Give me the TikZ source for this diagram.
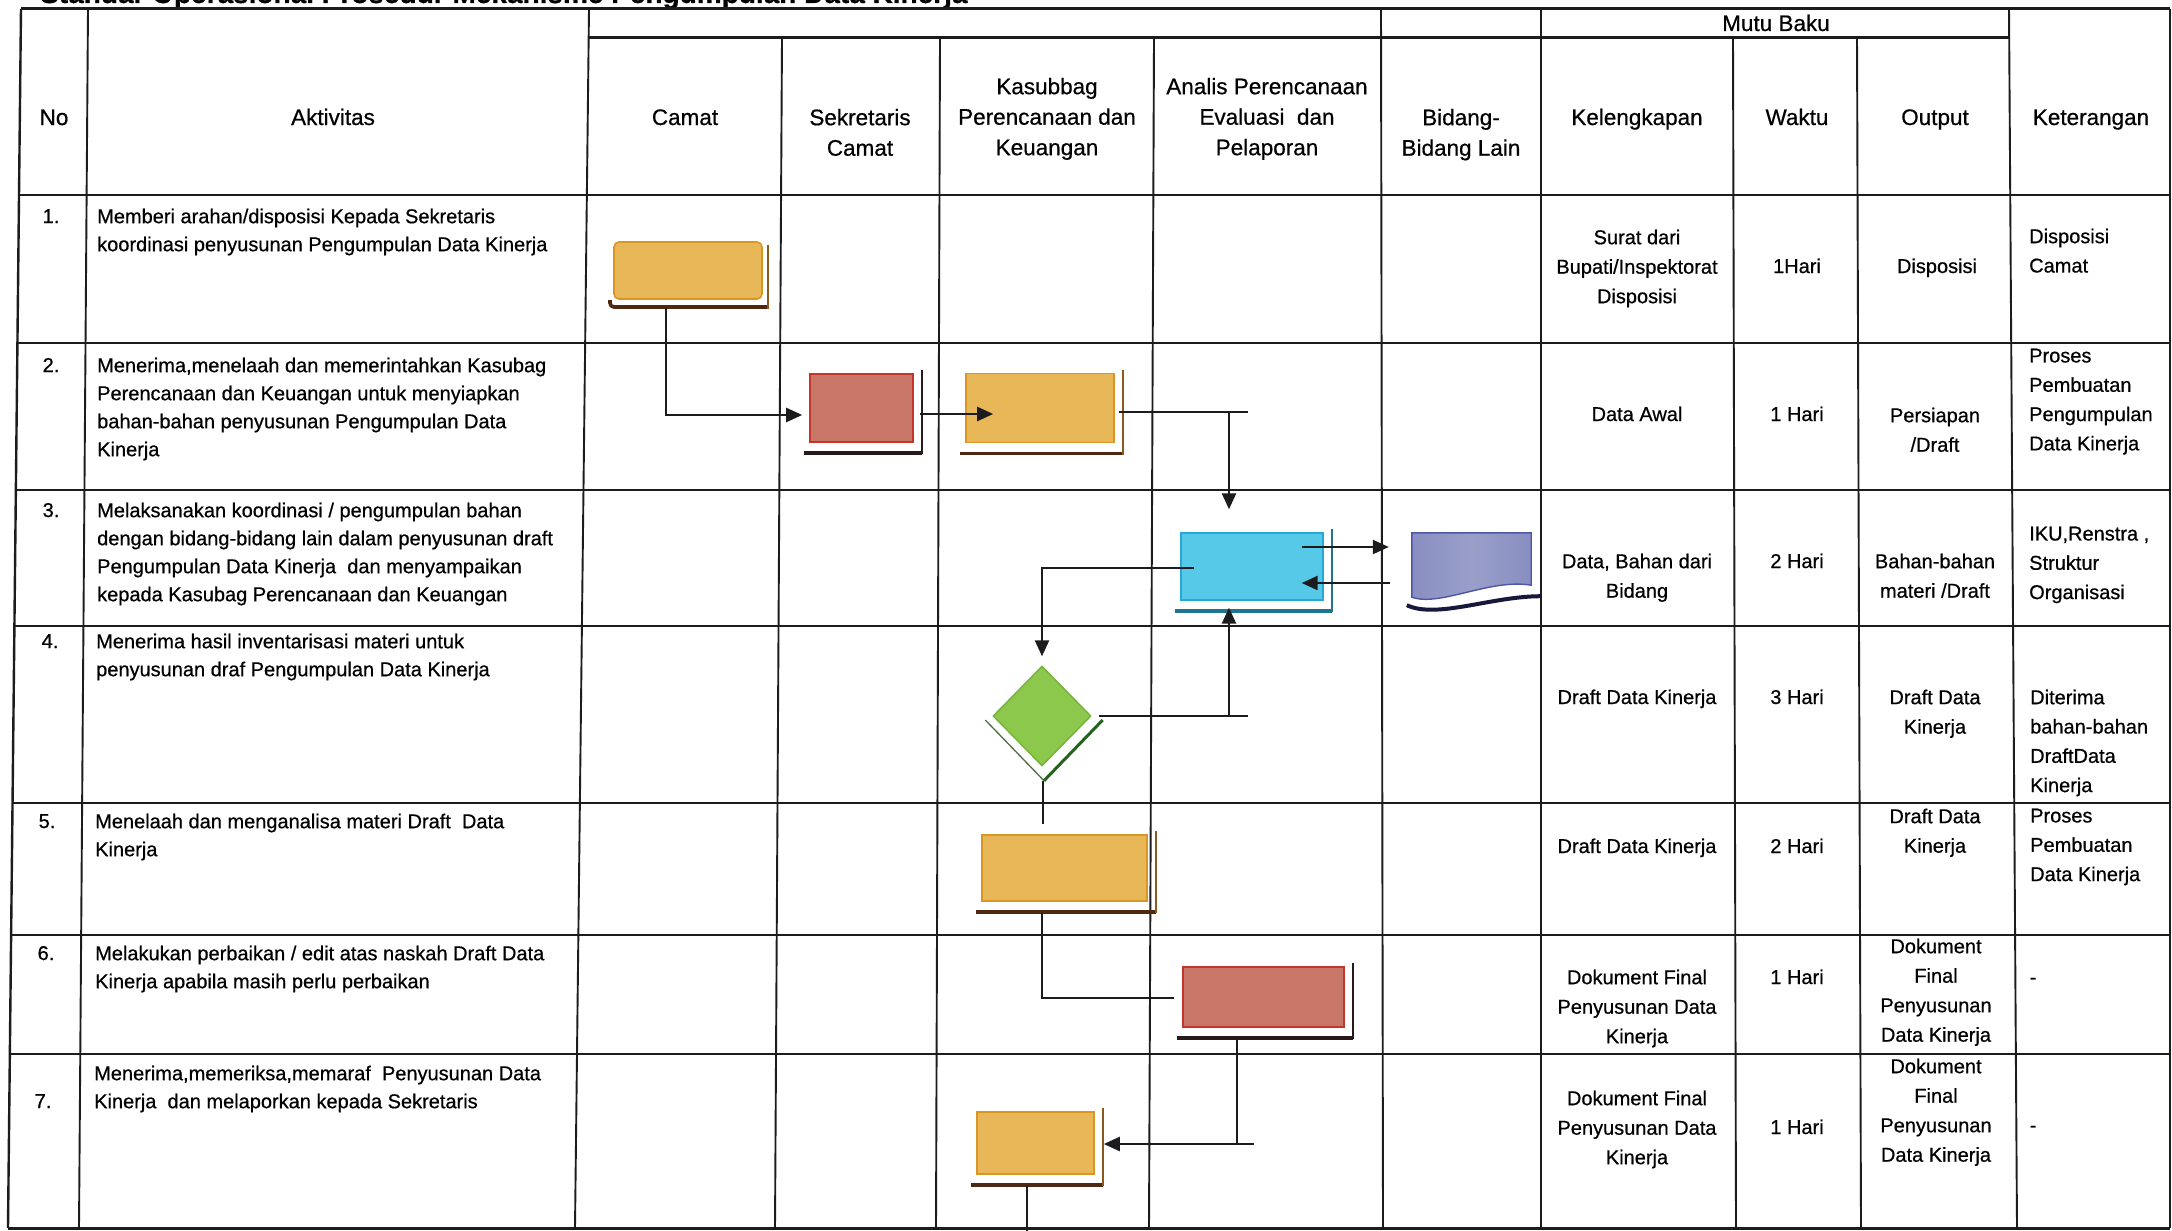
\documentclass[tikz,border=0pt]{standalone}
\usepackage{fontspec}
\setmainfont{Liberation Sans}[FakeBold=0.6]
\usetikzlibrary{arrows.meta,calc,shapes.geometric}
\definecolor{ink}{RGB}{28,28,30}
\definecolor{orfill}{RGB}{232,184,88}
\definecolor{ordraw}{RGB}{218,150,36}
\definecolor{orshadow}{RGB}{78,40,16}
\definecolor{orside}{RGB}{140,90,30}
\definecolor{rdfill}{RGB}{200,118,104}
\definecolor{rddraw}{RGB}{196,54,42}
\definecolor{rdshadow}{RGB}{40,26,26}
\definecolor{cyfill}{RGB}{86,200,232}
\definecolor{cydraw}{RGB}{38,168,214}
\definecolor{cyshadow}{RGB}{28,118,144}
\definecolor{dcfill}{RGB}{136,142,192}
\definecolor{dcdraw}{RGB}{78,86,168}
\definecolor{dcshadow}{RGB}{24,24,60}
\definecolor{grfill}{RGB}{140,200,76}
\definecolor{grdraw}{RGB}{116,178,58}
\definecolor{grshadow}{RGB}{38,100,30}
\newcommand{\shfr}[3]{%
  \draw[#2, line width=3.6pt] ($(#1.south west)+(-5,10)$) -- ($(#1.south east)+(8,10)$);
  \draw[#3, line width=1.8pt] ($(#1.north east)+(8,-3)$) -- ($(#1.south east)+(8,11.5)$);
}
\begin{document}
\begin{tikzpicture}[x=1pt,y=-1pt,
  hl/.style={draw=ink,line width=2.5pt},
  vl/.style={draw=ink,line width=1.9pt},
  conn/.style={draw=ink,line width=2.4pt},
  arr/.style={conn,-{Triangle[length=16pt,width=14pt]}},
  lt/.style={inner sep=0pt,font=\fontsize{20}{28}\selectfont,anchor=north west,align=left},
  nt/.style={inner sep=0pt,font=\fontsize{20}{28}\selectfont,anchor=base},
  ct/.style={inner sep=0pt,font=\fontsize{20}{29.5}\selectfont,anchor=north,align=center},
  bt/.style={inner sep=0pt,font=\fontsize{20}{29.5}\selectfont,anchor=base},
  kt/.style={inner sep=0pt,font=\fontsize{20}{29.3}\selectfont,anchor=north west,align=left},
  hd/.style={inner sep=0pt,font=\fontsize{22.5}{30.5}\selectfont,anchor=base},
  hdm/.style={inner sep=0pt,font=\fontsize{22.5}{30.5}\selectfont,anchor=north,align=center},
  orbox/.style={draw=ordraw,fill=orfill,line width=1.6pt,inner sep=0pt},
  rdbox/.style={draw=rddraw,fill=rdfill,line width=1.6pt,inner sep=0pt},
  cybox/.style={draw=cydraw,fill=cyfill,line width=1.4pt,inner sep=0pt},
  grdia/.style={diamond,draw=grdraw,fill=grfill,line width=1.4pt,inner sep=0pt,minimum width=98pt,minimum height=100pt}
]
\useasboundingbox (0,0) rectangle (2172,1231);
\fill[white] (0,0) rectangle (2172,1231);

% title (cut off at the top edge, as in the reference)
\node[inner sep=0pt,anchor=base west,font=\bfseries\fontsize{28}{30}\selectfont] (title) at (40,3) {Standar Operasional Prosedur Mekanisme Pengumpulan Data Kinerja};

% ---- table grid ----
\draw[hl,line width=3pt] (21,9) -- (2170,9);
\draw[hl,line width=3pt] (589,38) -- (2010,38);
\draw[hl,line width=2.8pt] (19,195) -- (2170,195);
\draw[hl] (17.4,343) -- (2170,343);
\draw[hl] (15.9,490) -- (2170,490);
\draw[hl] (14.4,626) -- (2170,626);
\draw[hl] (12.5,803) -- (2170,803);
\draw[hl] (11.1,935) -- (2170,935);
\draw[hl] (9.9,1054) -- (2170,1054);
\draw[hl,line width=3pt] (8,1228) -- (2170,1228);

\draw[vl,line width=2.4pt] (21,9) -- (8,1228);
\draw[vl] (88,9) -- (79,1228);
\draw[vl] (589,9) -- (575,1228);
\draw[vl] (782,38) -- (775,1228);
\draw[vl] (940,38) -- (936,1228);
\draw[vl] (1154,38) -- (1149,1228);
\draw[vl] (1381,9) -- (1383,1228);
\draw[vl] (1541,9) -- (1541,1228);
\draw[vl] (1733,38) -- (1736,1228);
\draw[vl] (1857,38) -- (1861,1228);
\draw[vl] (2009,9) -- (2017,1228);
\draw[vl,line width=2.4pt] (2170,9) -- (2170,1228);

% ---- header ----
\node[hd] (hMutu) at (1776,31) {Mutu Baku};
\node[hd] (hNo) at (54,125) {No};
\node[hd] (hAkt) at (333,125) {Aktivitas};
\node[hd] (hCamat) at (685,125) {Camat};
\node[hdm] (hSek) at (860,108.7) {Sekretaris\\Camat};
\node[hdm] (hKas) at (1047,77.7) {Kasubbag\\Perencanaan dan\\Keuangan};
\node[hdm] (hAna) at (1267,77.7) {Analis Perencanaan\\Evaluasi\ \ dan\\Pelaporan};
\node[hdm] (hBid) at (1461,108.7) {Bidang-\\Bidang Lain};
\node[hd] (hKel) at (1637,125) {Kelengkapan};
\node[hd] (hWak) at (1797,125) {Waktu};
\node[hd] (hOut) at (1935,125) {Output};
\node[hd] (hKet) at (2091,125) {Keterangan};

% ---- numbers ----
\node[nt] (n1) at (51,223) {1.};
\node[nt] (n2) at (51,372) {2.};
\node[nt] (n3) at (51,517) {3.};
\node[nt] (n4) at (50,648) {4.};
\node[nt] (n5) at (47,828) {5.};
\node[nt] (n6) at (46,960) {6.};
\node[nt] (n7) at (43,1108) {7.};

% ---- activities ----
\node[lt] (a1) at (97,208.5) {Memberi arahan/disposisi Kepada Sekretaris\\koordinasi penyusunan Pengumpulan Data Kinerja};
\node[lt] (a2) at (97,357.5) {Menerima,menelaah dan memerintahkan Kasubag\\Perencanaan dan Keuangan untuk menyiapkan\\bahan-bahan penyusunan Pengumpulan Data\\Kinerja};
\node[lt] (a3) at (97,502.5) {Melaksanakan koordinasi / pengumpulan bahan\\dengan bidang-bidang lain dalam penyusunan draft\\Pengumpulan Data Kinerja\ \ dan menyampaikan\\kepada Kasubag Perencanaan dan Keuangan};
\node[lt] (a4) at (96,633.5) {Menerima hasil inventarisasi materi untuk\\penyusunan draf Pengumpulan Data Kinerja};
\node[lt] (a5) at (95,813.5) {Menelaah dan menganalisa materi Draft\ \ Data\\Kinerja};
\node[lt] (a6) at (95,945.5) {Melakukan perbaikan / edit atas naskah Draft Data\\Kinerja apabila masih perlu perbaikan};
\node[lt] (a7) at (94,1065.5) {Menerima,memeriksa,memaraf\ \ Penyusunan Data\\Kinerja\ \ dan melaporkan kepada Sekretaris};

% ---- Mutu Baku columns ----
\node[ct] (k1) at (1637,229.5) {Surat dari\\Bupati/Inspektorat\\Disposisi};
\node[bt] (w1) at (1797,273) {1Hari};
\node[bt] (o1) at (1937,273) {Disposisi};
\node[kt] (r1) at (2029,228.5) {Disposisi\\Camat};

\node[bt] (k2) at (1637,421) {Data Awal};
\node[bt] (w2) at (1797,421) {1 Hari};
\node[ct] (o2) at (1935,407.5) {Persiapan\\/Draft};
\node[kt] (r2) at (2029,348.5) {Proses\\Pembuatan\\Pengumpulan\\Data Kinerja};

\node[ct] (k3) at (1637,553.5) {Data, Bahan dari\\Bidang};
\node[bt] (w3) at (1797,568) {2 Hari};
\node[ct] (o3) at (1935,553.5) {Bahan-bahan\\materi /Draft};
\node[kt] (r3) at (2029,526.5) {IKU,Renstra ,\\Struktur\\Organisasi};

\node[bt] (k4) at (1637,704) {Draft Data Kinerja};
\node[bt] (w4) at (1797,704) {3 Hari};
\node[ct] (o4) at (1935,689.5) {Draft Data\\Kinerja};
\node[kt] (r4) at (2030,689.5) {Diterima\\bahan-bahan\\DraftData\\Kinerja};

\node[bt] (k5) at (1637,853) {Draft Data Kinerja};
\node[bt] (w5) at (1797,853) {2 Hari};
\node[ct] (o5) at (1935,808.5) {Draft Data\\Kinerja};
\node[kt] (r5) at (2030,808.5) {Proses\\Pembuatan\\Data Kinerja};

\node[ct] (k6) at (1637,969.5) {Dokument Final\\Penyusunan Data\\Kinerja};
\node[bt] (w6) at (1797,984) {1 Hari};
\node[ct] (o6) at (1936,938.5) {Dokument\\Final\\Penyusunan\\Data Kinerja};
\node[bt] (r6) at (2033,984) {-};

\node[ct] (k7) at (1637,1090.5) {Dokument Final\\Penyusunan Data\\Kinerja};
\node[bt] (w7) at (1797,1134) {1 Hari};
\node[ct] (o7) at (1936,1058.5) {Dokument\\Final\\Penyusunan\\Data Kinerja};
\node[bt] (r7) at (2033,1132) {-};

% ---- flow shapes ----
% row 1 Camat
\draw[orshadow,line width=3.6pt,rounded corners=4pt] (610,300) -- (610,307) -- (768,307);
\draw[orside,line width=1.8pt] (768,245) -- (768,308.5);
\node[orbox,rounded corners=5pt,minimum width=148pt,minimum height=57pt] (camat) at (688,270.5) {};
% row 2
\node[rdbox,minimum width=103pt,minimum height=68pt] (sek) at (861.5,408) {};
\shfr{sek}{rdshadow}{rdshadow}
\node[orbox,minimum width=148pt,minimum height=69pt] (kas2) at (1040,408) {};
\shfr{kas2}{orshadow}{orside}
% row 3
\node[cybox,minimum width=142pt,minimum height=67pt] (cyan) at (1252,566.5) {};
\shfr{cyan}{cyshadow}{cyshadow}
\node[inner sep=0pt,minimum width=119pt,minimum height=64pt] (doc) at (1471.5,565) {};
\draw[dcshadow,line width=4pt] ($(doc.south west)+(-5,8)$) .. controls +(30,14) and +(-50,0) .. ($(doc.south east)+(10,-1)$);
\path[left color=dcfill,right color=dcfill,middle color=dcfill!85!white,draw=dcdraw,line width=1.4pt]
  (doc.north west) -- (doc.north east) -- ($(doc.south east)+(0,-12)$)
  .. controls +(-41,-7) and +(28,10) .. (doc.south west) -- cycle;
% row 4 diamond
\node[grdia] (dia) at (1042,716) {};
\draw[grshadow!60!gray,line width=1.3pt] ($(dia.west)+(-7,4)$) -- ($(dia.south)+(2,14)$);
\draw[grshadow,line width=3pt] ($(dia.south)+(2,14)$) -- ($(dia.east)+(11,4)$);
% row 5
\node[orbox,minimum width=165pt,minimum height=66pt] (kas5) at (1064.5,868) {};
\shfr{kas5}{orshadow}{orside}
% row 6
\node[rdbox,minimum width=161pt,minimum height=60pt] (red6) at (1263.5,997) {};
\shfr{red6}{rdshadow}{rdshadow}
% row 7
\node[orbox,minimum width=117pt,minimum height=62pt] (kas7) at (1035.5,1143) {};
\shfr{kas7}{orshadow}{orside}

% ---- connectors ----
\coordinate (j1) at (1229,412);
\coordinate (s1) at (1248,412);
\coordinate (j2) at (1229,716);
\coordinate (s2) at (1248,716);
\coordinate (j3) at (1237,1144);
\coordinate (s3) at (1254,1144);
\coordinate (e7) at (1027,1231);

\draw[arr] ($(camat.south)+(-22,8)$) |- ($(sek.west)+(-7,7)$);
\draw[arr] ($(sek.east)+(6,6)$) -- ($(kas2.west)+(28,6)$);
\draw[conn] ($(kas2.east)+(4,4)$) -- (s1);
\draw[arr] (j1) -- ($(cyan.north)+(-23,-23)$);
\draw[arr] ($(cyan.east)+(-22,-19.5)$) -- ($(doc.west)+(-23,-18)$);
\draw[arr] ($(doc.west)+(-22,18)$) -- ($(cyan.east)+(-22,16.5)$);
\draw[arr] ($(cyan.west)+(14,1.5)$) -| ($(dia.north)+(0,-9)$);
\draw[conn] ($(dia.east)+(7,0)$) -- (s2);
\draw[arr] (j2) -- ($(cyan.south)+(-23,7)$);
\draw[conn] ($(dia.south)+(1,14)$) -- ($(kas5.north)+(-21.5,-10)$);
\draw[conn] ($(kas5.south)+(-22.5,11)$) |- ($(red6.west)+(-8,1)$);
\draw[conn] ($(red6.south)+(-26.5,10)$) -- (j3);
\draw[arr] (s3) -- ($(kas7.east)+(9,1)$);
\draw[conn] ($(kas7.south)+(-8.5,11)$) -- (e7);
\end{tikzpicture}
\end{document}
